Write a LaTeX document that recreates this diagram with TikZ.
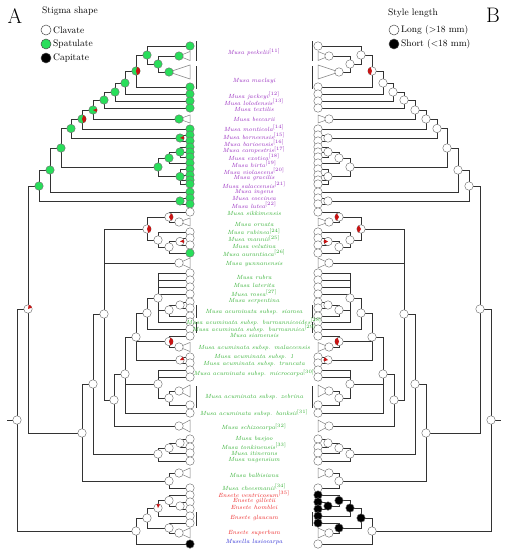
\documentclass[tikz,border=0pt]{standalone}
\usetikzlibrary{calc}
\pgfdeclarelayer{bg}
\pgfsetlayers{bg,main}
\definecolor{sgreen}{RGB}{40,222,90}
\definecolor{lpurple}{RGB}{150,40,190}
\definecolor{lgreen}{RGB}{50,175,50}
\definecolor{lred}{RGB}{235,35,35}
\definecolor{lblue}{RGB}{40,40,210}
\definecolor{wred}{RGB}{200,20,20}
\tikzset{
 edge/.style={line width=0.9pt,draw=black!80},
 nd/.style={circle,draw=black!55,line width=0.45pt,inner sep=0pt,minimum size=8.5pt},
 tri/.style={draw=black!50,line width=0.5pt,fill=white},
 gbar/.style={line width=0.9pt,draw=black!80},
 lab/.style={font=\fontsize{6}{7}\selectfont\itshape,inner sep=0pt},
 leg/.style={font=\fontsize{9.5}{11}\selectfont,inner sep=0pt,anchor=west},
 legc/.style={circle,draw=black!70,line width=0.5pt,inner sep=0pt,minimum size=10pt},
 big/.style={font=\fontsize{21}{21}\selectfont,inner sep=0pt},
}
\def\sA{A}
\newcommand\N[5]{\ifx\side\sA\node[nd,fill=#4] (\side#1) at (#2,#3) {};\else\node[nd,fill=#5] (\side#1) at (#2,#3) {};\fi}
\newcommand\Lf[3]{\N{L#1}{190}{#1}{#2}{#3}}
\newcommand\E[2]{\foreach \c in {#2}{\draw[edge] (\side#1.center) |- (\side\c.center);}}
\newcommand\TR[3]{\draw[tri] (#1,#2) -- (190,{#2-#3}) -- (190,{#2+#3}) -- cycle;}
\newcommand\BR[2]{\draw[gbar] (196,#1) -- (196,#2);}
\newcommand\WG[3]{\fill[wred] (#1.center) -- ($(#1.center)+(#2:4.2pt)$) arc[start angle=#2,end angle=#3,radius=4.2pt] -- cycle;}
\newcommand\sr[1]{\textsuperscript{\upshape[#1]}}
\newcommand\tree{%
\begin{pgfonlayer}{bg}
\TR{179}{56}{4.5}\TR{169}{72}{7}\TR{179}{119}{4}\TR{179}{222}{4}\TR{179}{263}{5}
\TR{179}{347}{4.5}\TR{179}{391}{6}\TR{179}{426}{6}\TR{179}{473}{5}\TR{179}{533}{5}
\BR{41}{61}\BR{66}{89}\BR{305}{318}\BR{322}{333}\BR{386}{408}\BR{512}{526}
\end{pgfonlayer}
\N{r}{17}{420}{white}{white}
\coordinate (\side stub) at (7,420);
\N{RA}{28}{309}{white}{white}
\N{CA}{39}{186}{sgreen}{white}
\N{C1}{50}{170}{sgreen}{white}
\N{l}{61}{148}{sgreen}{white}
\N{k}{71}{128.5}{sgreen}{white}
\N{j}{82}{119}{sgreen}{white}
\N{i}{93}{110}{sgreen}{white}
\N{h}{104}{100}{sgreen}{white}
\N{gg}{115}{92}{sgreen}{white}
\N{f}{125}{83}{sgreen}{white}
\N{e}{136}{71}{sgreen}{white}
\N{d}{147}{55}{sgreen}{white}
\N{b}{158}{64}{sgreen}{white}
\N{a}{179}{56}{sgreen}{white}
\N{c}{169}{72}{sgreen}{white}
\N{bec}{179}{119}{sgreen}{white}
\N{k2}{180}{138}{sgreen}{white}
\N{m}{158}{167}{sgreen}{white}
\N{m1}{169}{158}{sgreen}{white}
\N{m11}{180}{152}{sgreen}{white}
\N{m2}{180}{176.5}{sgreen}{white}
\N{n2}{180}{201}{sgreen}{white}
\foreach \y in {46,87,94,101,108,129,135,141,147,152,157,163,169,175,180,184,192,198,204}{\Lf{\y}{sgreen}{white}}
\N{Lo}{82}{433}{white}{white}
\N{Q}{93}{384}{white}{white}
\N{P}{104}{314}{white}{white}
\N{R}{147}{229}{white}{white}
\N{Ra}{169}{217}{white}{white}
\N{orn}{179}{222}{white}{white}
\N{Rb}{158}{240}{white}{white}
\N{Rc}{169}{247}{white}{white}
\N{Rd}{180}{241.5}{white}{white}
\N{T}{179}{263}{white}{white}
\N{S}{114}{400}{white}{white}
\N{N4}{125}{374}{white}{white}
\N{N3}{136}{337}{white}{white}
\N{N2}{147}{313}{white}{white}
\N{N1}{158}{298}{white}{white}
\N{N1a}{169}{310}{white}{white}
\N{N1b}{180}{305}{white}{white}
\N{N3a}{169}{341.5}{white}{white}
\N{mal}{179}{347}{white}{white}
\N{N3b}{180}{360}{white}{white}
\N{M}{158}{384}{white}{white}
\N{M1}{169}{398}{white}{white}
\N{zeb}{179}{391}{white}{white}
\N{sch}{179}{426}{white}{white}
\N{Bs}{158}{454}{white}{white}
\N{Bs1}{169}{448}{white}{white}
\N{Bs2}{180}{443}{white}{white}
\N{Bl}{169}{481}{white}{white}
\N{bal}{179}{473}{white}{white}
\N{E0}{136}{531}{white}{white}
\N{E1}{147}{518}{white}{black}
\N{E2}{158}{508}{white}{black}
\N{E3}{169}{500.5}{white}{black}
\N{E4}{180}{506}{white}{black}
\N{E5}{169}{528}{white}{black}
\N{sup}{179}{533}{white}{white}
\foreach \y in {212,232,238,245,273,280,287,294,302,308,316,322,329,336,357,363,370,377,405,413,439,447,453,461,488}{\Lf{\y}{white}{white}}
\Lf{253}{sgreen}{white}
\foreach \y in {495,502,509,516,523}{\Lf{\y}{white}{black}}
\Lf{544}{black}{white}
\begin{pgfonlayer}{bg}
\draw[edge] (\side r.center) -- (\side stub);
\E{r}{RA,E0}\E{RA}{CA,Lo}\E{CA}{C1,n2}\E{C1}{l,L192}\E{l}{k,m}\E{k}{j,k2}
\E{j}{i,L129}\E{i}{h,bec}\E{h}{gg,L108}\E{gg}{f,L101}\E{f}{e,L94}\E{e}{d,L87}
\E{d}{L46,b}\E{b}{a,c}\E{k2}{L135,L141}\E{m}{m1,m2}\E{m1}{m11,L163}
\E{m11}{L147,L152,L157}\E{m2}{L169,L175,L180,L184}\E{n2}{L198,L204}
\E{Lo}{Q,Bl}\E{Q}{P,Bs}\E{P}{R,T,S}\E{R}{Ra,Rb}\E{Ra}{L212,orn}\E{Rb}{L232,Rc}
\E{Rc}{Rd,L253}\E{Rd}{L238,L245}\E{S}{N4,sch}\E{N4}{N3,M,L413}\E{N3}{N2,N3a,N3b}
\E{N2}{N1,L329}\E{N1}{L273,L280,L287,L294,N1a,L322}\E{N1a}{N1b,L316}\E{N1b}{L302,L308}
\E{N3a}{L336,mal}\E{N3b}{L357,L363}\E{M}{L370,L377,M1}\E{M1}{zeb,L405}
\E{Bs}{Bs1,L461}\E{Bs1}{Bs2,L453}\E{Bs2}{L439,L447}\E{Bl}{bal,L488}
\E{E0}{E1,L544}\E{E1}{E2,E5}\E{E2}{E3,L516}\E{E3}{L495,E4}\E{E4}{L502,L509}\E{E5}{L523,sup}
\end{pgfonlayer}
}
\begin{document}
\begin{tikzpicture}[x=1pt,y=-1pt]
\useasboundingbox (0,0) rectangle (507,550);
\def\side{A}
\begin{scope}\tree\end{scope}
\def\side{B}
\begin{scope}[xshift=508pt,xscale=-1]\tree\end{scope}
% red wedges
\WG{Ae}{-75}{75}\WG{Aj}{-70}{70}\WG{Ai}{-30}{20}\WG{Ak2}{-20}{30}\WG{ARA}{20}{80}
\WG{AR}{-70}{70}\WG{ARa}{-60}{60}\WG{ARd}{-20}{30}\WG{AN3a}{-70}{70}\WG{AN3b}{0}{50}\WG{AE2}{60}{110}
\WG{Be}{110}{250}\WG{BR}{120}{240}\WG{BRa}{120}{240}\WG{BN3a}{110}{250}\WG{BN3b}{140}{200}\WG{BRd}{150}{210}
% legends
\node[big] (letA) at (15,16) {A};
\node[leg] (lgA) at (42,11) {Stigma shape};
\node[legc,fill=white] (cA1) at (46,30) {};
\node[leg] (tA1) at (53,30) {Clavate};
\node[legc,fill=sgreen] (cA2) at (46,44) {};
\node[leg] (tA2) at (53,44) {Spatulate};
\node[legc,fill=black] (cA3) at (46,58) {};
\node[leg] (tA3) at (53,58) {Capitate};
\node[big] (letB) at (493,15) {B};
\node[leg] (lgB) at (388,13) {Style length};
\node[legc,fill=white] (cB1) at (394,30) {};
\node[leg] (tB1) at (401,30) {Long (>18 mm)};
\node[legc,fill=black] (cB2) at (394,44) {};
\node[leg] (tB2) at (401,44) {Short (<18 mm)};
% labels
\begin{scope}[every node/.style={lab,text=lpurple}]
\node (s1) at (254,52) {Musa peekelii\sr{11}};
\node (s2) at (254,81) {Musa maclayi};
\node (s3) at (254,95.5) {Musa jackeyi\sr{12}};
\node (s4) at (254,102) {Musa lolodensis\sr{13}};
\node (s5) at (254,109) {Musa textilis};
\node (s6) at (254,119) {Musa beccarii};
\node (s7) at (254,128) {Musa monticola\sr{14}};
\node (s8) at (254,136) {Musa borneensis\sr{15}};
\node (s9) at (254,143) {Musa barioensis\sr{16}};
\node (s10) at (254,150) {Musa campestris\sr{17}};
\node (s11) at (254,157) {Musa exotica\sr{18}};
\node (s12) at (254,164) {Musa hirta\sr{19}};
\node (s13) at (254,171) {Musa violascens\sr{20}};
\node (s14) at (254,178) {Musa gracilis};
\node (s15) at (254,185) {Musa salaccensis\sr{21}};
\node (s16) at (254,192) {Musa ingens};
\node (s17) at (254,198.5) {Musa coccinea};
\node (s18) at (254,205) {Musa lutea\sr{22}};
\end{scope}
\begin{scope}[every node/.style={lab,text=lgreen}]
\node (g1) at (254,213) {Musa sikkimensis};
\node (g2) at (254,224) {Musa ornata};
\node (g3) at (254,231.5) {Musa rubinea\sr{24}};
\node (g4) at (254,238.5) {Musa mannii\sr{25}};
\node (g5) at (254,246) {Musa velutina};
\node (g6) at (254,253) {Musa aurantiaca\sr{26}};
\node (g7) at (254,264) {Musa yunnanensis};
\node (g8) at (254,277) {Musa rubra};
\node (g9) at (254,285) {Musa laterita};
\node (g10) at (254,293) {Musa rosea\sr{27}};
\node (g11) at (254,301) {Musa serpentina};
\node (g12) at (254,312) {Musa acuminata subsp. siamea};
\node (g13) at (254,321.5) {Musa acuminata subsp. burmannicoides\sr{28}};
\node (g14) at (254,328.5) {Musa acuminata subsp. burmannica\sr{29}};
\node (g15) at (254,335.5) {Musa siamensis};
\node (g16) at (254,348) {Musa acuminata subsp. malaccensis};
\node (g17) at (254,357) {Musa acuminata subsp. 1};
\node (g18) at (254,364) {Musa acuminata subsp. truncata};
\node (g19) at (254,373) {Musa acuminata subsp. microcarpa\sr{30}};
\node (g20) at (254,397) {Musa acuminata subsp. zebrina};
\node (g21) at (254,413) {Musa acuminata subsp. banksii\sr{31}};
\node (g22) at (254,427) {Musa schizocarpa\sr{32}};
\node (g23) at (254,439) {Musa basjoo};
\node (g24) at (254,446) {Musa tonkinensis\sr{33}};
\node (g25) at (254,453) {Musa itinerans};
\node (g26) at (254,460) {Musa nagensium};
\node (g27) at (254,475) {Musa balbisiana};
\node (g28) at (254,487) {Musa cheesmanii\sr{34}};
\end{scope}
\begin{scope}[every node/.style={lab,text=lred}]
\node (e1) at (254,494) {Ensete ventricosum\sr{35}};
\node (e2) at (254,501) {Ensete gilletii};
\node (e3) at (254,507.5) {Ensete homblei};
\node (e4) at (254,518) {Ensete glaucum};
\node (e5) at (254,533) {Ensete superbum};
\end{scope}
\node[lab,text=lblue] (mu1) at (254,542) {Musella lasiocarpa};
\end{tikzpicture}
\end{document}
